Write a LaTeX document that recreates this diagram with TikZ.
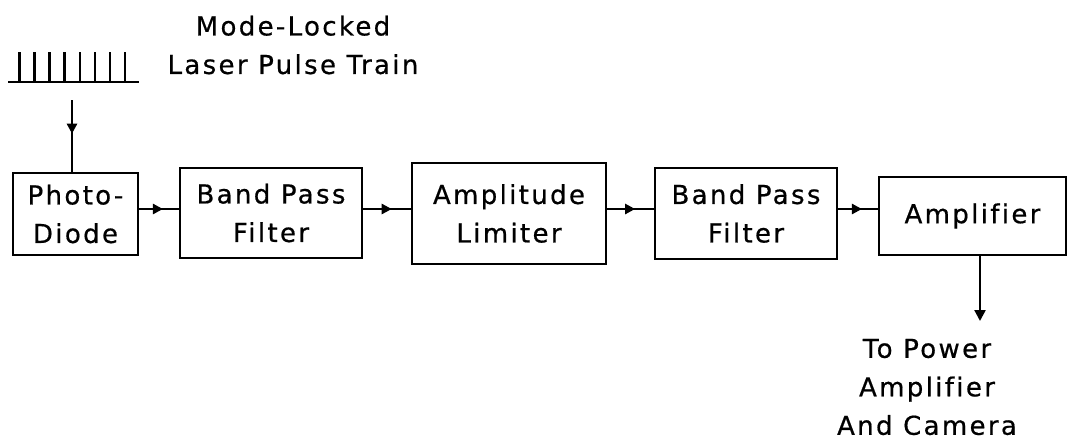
\documentclass[tikz,border=0pt]{standalone}
\usepackage{fontspec}
\setmainfont{DejaVu Sans}[LetterSpace=9, Ligatures={NoCommon}, FakeBold=0.6]
\usetikzlibrary{arrows.meta,decorations.markings,calc}
\begin{document}
\begin{tikzpicture}[x=1pt,y=-1pt,
  every node/.style={font=\fontsize{26}{38.5}\selectfont, align=center, inner sep=0pt},
  blk/.style={draw, line width=2.6pt},
  wire/.style={line width=2.4pt},
  midarrow/.style={wire, decoration={markings, mark=at position #1 with {\arrow{Triangle[length=10pt,width=10pt]}}}, postaction={decorate}},
  endarrow/.style={wire, -{Triangle[length=11pt,width=11pt]}}
]
\useasboundingbox (0,0) rectangle (1070,439);
% pulse train
\coordinate (pl) at (8,82);
\coordinate (pr) at (139,82);
\draw[wire] (pl) -- (pr);
\foreach \x in {19.3,34.4,49.5,64.6,79.7,94.8,109.9,125}
  \draw[wire] (\x,82) -- (\x,52);
\node (lbl) at (293,45) {Mode-Locked\\Laser Pulse Train};
% boxes
\node[blk, minimum width=125pt, minimum height=82pt] (b1) at (75.5,214) {Photo-\\Diode};
\node[blk, minimum width=182pt, minimum height=90pt] (b2) at (271,213) {Band Pass\\Filter};
\node[blk, minimum width=194pt, minimum height=101pt] (b3) at (509,213.5) {Amplitude\\Limiter};
\node[blk, minimum width=182pt, minimum height=91pt] (b4) at (746,213.5) {Band Pass\\Filter};
\node[blk, minimum width=187pt, minimum height=78pt] (b5) at (972.5,216) {Amplifier};
% input arrow
\coordinate (in) at (72,100);
\draw[midarrow=0.47] (in) -- (in |- b1.north);
% connectors
\coordinate (row) at (0,209);
\foreach \a/\b in {b1/b2,b2/b3,b3/b4,b4/b5}
  \draw[midarrow=0.6] (\a.east |- row) -- (\b.west |- row);
% output
\coordinate (out) at (980,321);
\draw[endarrow] (out |- b5.south) -- (out);
\node (olbl) at (927,387) {To Power\\Amplifier\\And Camera};
\end{tikzpicture}
\end{document}
